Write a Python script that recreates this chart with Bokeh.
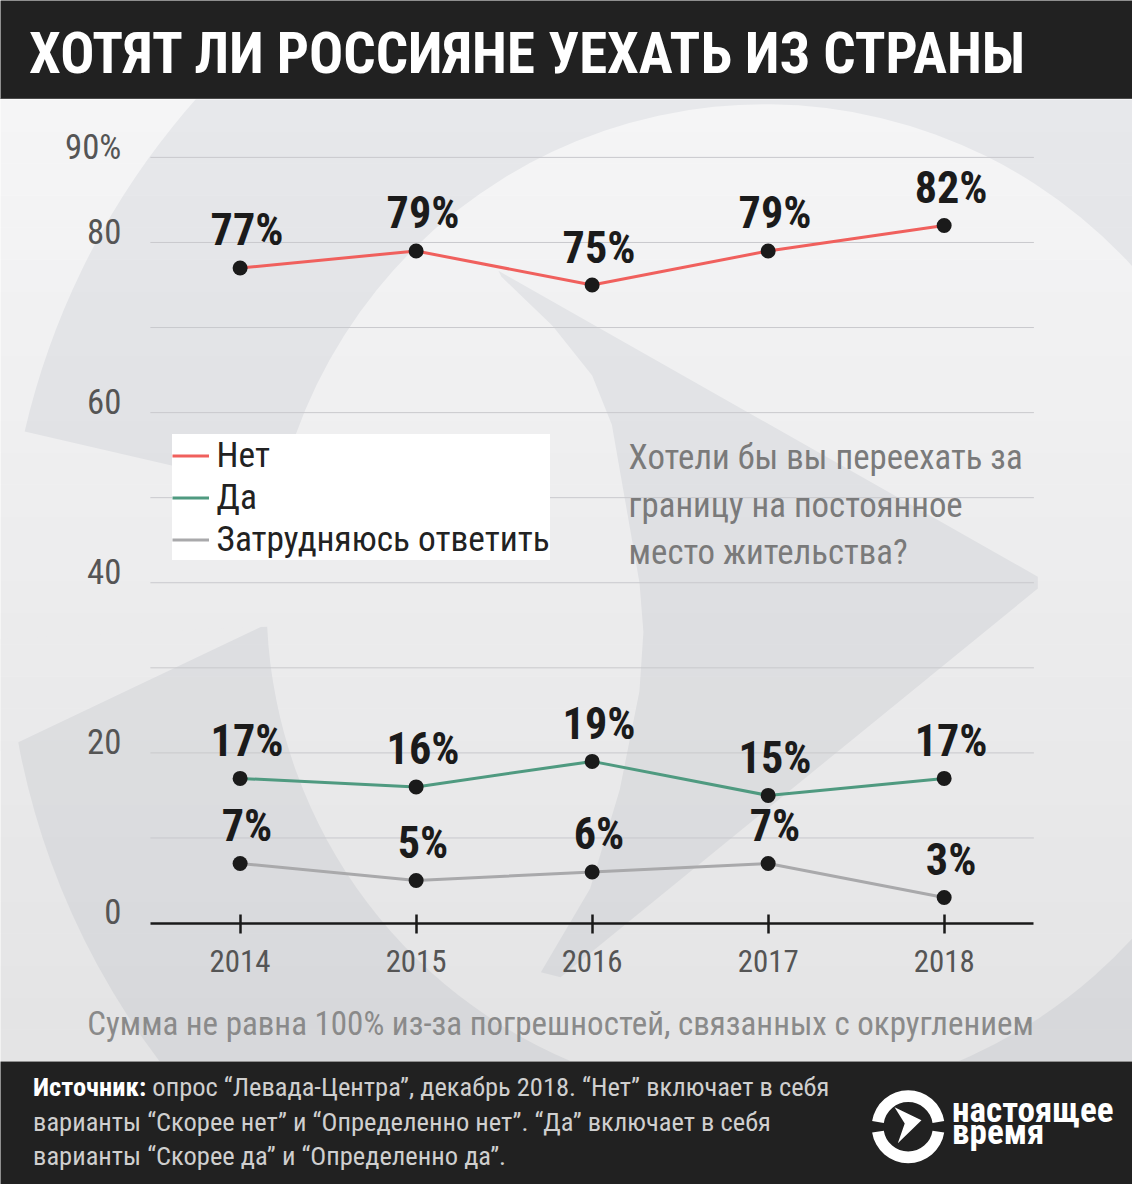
import math, glob, os
from bokeh.plotting import figure
from bokeh.models import (Range1d, LinearAxis, FixedTicker, Label, Legend,
                          LegendItem, ColumnDataSource)
from bokeh.layouts import column
from bokeh.core.properties import value
from bokeh.embed import file_html
from bokeh.resources import INLINE

# ---------------- data ----------------
years = [2014, 2015, 2016, 2017, 2018]
year_labels = ["2014", "2015", "2016", "2017", "2018"]
net = [77, 79, 75, 79, 82]          # Нет
da = [17, 16, 19, 15, 17]           # Да
hard = [7, 5, 6, 7, 3]              # Затрудняюсь ответить
series_names = ["Нет", "Да", "Затрудняюсь ответить"]
series_colors = ["#f0605d", "#4f9a80", "#a9a9ab"]
y_ticks = [0, 20, 40, 60, 80, 90]
y_tick_labels = ["0", "20", "40", "60", "80", "90%"]
grid_values = [10, 20, 30, 40, 50, 60, 70, 80, 90]

title_text = "ХОТЯТ ЛИ РОССИЯНЕ УЕХАТЬ ИЗ СТРАНЫ"
question_lines = ["Хотели бы вы переехать за", "границу на постоянное", "место жительства?"]
footnote_text = "Сумма не равна 100% из-за погрешностей, связанных с округлением"
source_head = "Источник:"
source_lines = ["опрос “Левада-Центра”, декабрь 2018. “Нет” включает в себя",
                "варианты “Скорее нет” и “Определенно нет”. “Да” включает в себя",
                "варианты “Скорее да” и “Определенно да”."]
logo_lines = ["настоящее", "время"]

# ---------------- fonts ----------------
def _font_names():
    files = []
    for d in ["/usr/share/fonts", "/usr/local/share/fonts",
              os.path.expanduser("~/.fonts"), os.path.expanduser("~/.local/share/fonts")]:
        files += glob.glob(os.path.join(d, "**", "*"), recursive=True)
    return " ".join(os.path.basename(f).lower().replace(" ", "").replace("-", "").replace("_", "")
                    for f in files)

_FN = _font_names()
if "robotocondensed" in _FN:
    FONT, WF = "Roboto Condensed", 1.12
elif "liberationsansnarrow" in _FN:
    FONT, WF = "Liberation Sans Narrow", 1.15
else:
    FONT, WF = "Roboto", 1.0

# ---------------- geometry (reference px -> canvas) ----------------
W, H = 1132, 1184
SX, SY = W / 1148.0, H / 1200.0
S = (SX + SY) / 2
HH, HM, HF = 99, 962, 123
MAIN_TOP = HH / SY
MAIN_BOT = (HH + HM) / SY


def fs(px):
    return f"{px * WF * S:.1f}px"


def X(xref):      # reference px -> year
    return 2014 + (xref - 243.0) / 178.5


def Y(yref):      # reference px -> percent
    return (935.0 - yref) / 8.622


def msx(xref):    # main panel screen x
    return xref * SX


def msy(yref):    # main panel screen y (from bottom)
    return (HH + HM) - yref * SY


DARK = "#212121"

# ---------------- header ----------------
head = figure(width=W, height=HH, toolbar_location=None, output_backend="svg",
              x_axis_location=None, y_axis_location=None, min_border=0,
              x_range=Range1d(0, 1), y_range=Range1d(0, HH))
head.grid.visible = False
head.outline_line_color = None
head.background_fill_color = DARK
head.border_fill_color = DARK
head.segment(x0=[0], x1=[1], y0=[0.6], y1=[0.6], line_color="#5a5a5a", line_width=1.2)
head.add_layout(Label(x=29 * SX, y=HH - 54 * SY, x_units="screen", y_units="screen",
                      text=title_text, text_font=FONT, text_font_style="bold",
                      text_font_size=fs(51.4), text_color="white", text_baseline="middle"))

# ---------------- main chart ----------------
p = figure(width=W, height=HM, toolbar_location=None, output_backend="svg",
           x_axis_location=None, y_axis_location=None, min_border=0,
           x_range=Range1d(X(0), X(1148)), y_range=Range1d(Y(MAIN_BOT), Y(MAIN_TOP)))
p.grid.visible = False
p.outline_line_color = None
BG = "#f5f5f6"
p.background_fill_color = BG
p.border_fill_color = BG

LABEL_OFF = 11.0 / 8.622
p.extra_y_ranges = {"lab": Range1d(Y(MAIN_BOT) - LABEL_OFF, Y(MAIN_TOP) - LABEL_OFF)}

# watermark (decoration): broken ring + chevron
WM = "#e7e8eb"
cx, cy = X(775), Y(610)
for a0, a1 in [(-40, 167), (182.8, 320)]:
    p.annular_wedge(x=cx, y=cy, inner_radius=505 * S, outer_radius=770 * S,
                    inner_radius_units="screen", outer_radius_units="screen",
                    start_angle=math.radians(a0), end_angle=math.radians(a1),
                    fill_color=WM, line_color=None)
# slanted cut of the lower arc end
cut = [(266, 634), (-20, 648), (-20, 770)]
p.patch(x=[X(a) for a, b in cut], y=[Y(b) for a, b in cut], fill_color=BG, line_color=None)
chev = [(505, 274), (1052, 584), (1052, 596), (568, 990), (548, 985), (598, 900),
        (628, 800), (648, 700), (652, 640), (648, 590), (620, 430), (600, 380),
        (560, 330), (508, 280)]
p.patch(x=[X(a) for a, b in chev], y=[Y(b) for a, b in chev], fill_color=WM, line_color=None)

# soft vertical darkening (decoration)
NB = 30
for i in range(NB):
    y0 = MAIN_TOP + (MAIN_BOT - MAIN_TOP) * i / NB
    y1 = MAIN_TOP + (MAIN_BOT - MAIN_TOP) * (i + 1) / NB
    p.quad(left=X(-20), right=X(1170), top=Y(y0), bottom=Y(y1), fill_color="black",
           fill_alpha=0.07 * i / NB, line_color=None)

# grid lines
gx0, gx1 = X(152), X(1048)
p.segment(x0=[gx0] * len(grid_values), x1=[gx1] * len(grid_values),
          y0=grid_values, y1=grid_values, line_color="#c9c9cd", line_width=1)

# axes
xaxis = LinearAxis(fixed_location=0, ticker=FixedTicker(ticks=years),
                   major_label_overrides={y: l for y, l in zip(years, year_labels)},
                   bounds=(gx0, gx1), axis_line_color="#1a1a1a", axis_line_width=2.5,
                   major_tick_line_color="#1a1a1a", major_tick_line_width=2.5,
                   major_tick_in=9, major_tick_out=10, minor_tick_line_color=None,
                   major_label_text_font=FONT, major_label_text_font_size=fs(28),
                   major_label_text_color="#555555", major_label_standoff=17)
p.add_layout(xaxis, "below")

yaxis = LinearAxis(y_range_name="lab", fixed_location=gx0, ticker=FixedTicker(ticks=y_ticks),
                   major_label_overrides={t: l for t, l in zip(y_ticks, y_tick_labels)},
                   axis_line_color=None, major_tick_line_color=None, minor_tick_line_color=None,
                   major_label_text_font=FONT, major_label_text_font_size=fs(31.5),
                   major_label_text_color="#555555", major_label_standoff=int(24 * SX))
p.add_layout(yaxis, "left")

# series
renderers = []
for vals, col in zip([net, da, hard], series_colors):
    renderers.append(p.line(years, vals, line_color=col, line_width=3))
for vals in [net, da, hard]:
    p.scatter(years, vals, size=15, fill_color="#1a1a1a", line_color=None)

lab_x, lab_y, lab_t = [], [], []
for vals in [net, da, hard]:
    lab_x += years
    lab_y += vals
    lab_t += [f"{v}%" for v in vals]
src = ColumnDataSource(dict(x=lab_x, y=lab_y, t=lab_t))
p.text(x="x", y="y", text="t", source=src, x_offset=7 * SX, y_offset=-38 * SY,
       text_align="center", text_baseline="middle", text_font=value(FONT),
       text_font_style="bold", text_font_size=fs(40), text_color="#1b1b1b")

legend = Legend(items=[LegendItem(label=n, renderers=[r]) for n, r in zip(series_names, renderers)],
                location=(msx(174), msy(568)), background_fill_color="white",
                background_fill_alpha=1.0, border_line_color=None, label_text_font=FONT,
                label_text_font_size=fs(32), label_text_color="#222222",
                glyph_width=int(38 * SX), glyph_height=int(38 * SY), label_height=int(38 * SY),
                spacing=-3, padding=5, margin=0, label_standoff=8)
p.add_layout(legend)

for i, line in enumerate(question_lines):
    p.add_layout(Label(x=msx(637), y=msy(463 + 48 * i), x_units="screen", y_units="screen",
                       text=line, text_font=FONT, text_font_size=fs(31.5), text_color="#7a7a7a",
                       text_baseline="middle"))

p.add_layout(Label(x=msx(568), y=msy(1037), x_units="screen", y_units="screen",
                   text=footnote_text, text_font=FONT, text_font_size=fs(29.9),
                   text_color="#8a8a8a", text_align="center", text_baseline="middle"))

# ---------------- footer ----------------
foot = figure(width=W, height=HF, toolbar_location=None, output_backend="svg",
              x_axis_location=None, y_axis_location=None, min_border=0,
              x_range=Range1d(0, 1148), y_range=Range1d(1200, MAIN_BOT))
foot.grid.visible = False
foot.outline_line_color = None
foot.background_fill_color = DARK
foot.border_fill_color = DARK


def fsy(yref):
    return H - yref * SY


foot.add_layout(Label(x=33 * SX, y=fsy(1101), x_units="screen", y_units="screen",
                      text=source_head, text_font=FONT, text_font_style="bold",
                      text_font_size=fs(24), text_color="white", text_baseline="middle"))
starts = [154, 33, 33]
for i, line in enumerate(source_lines):
    foot.add_layout(Label(x=starts[i] * SX, y=fsy(1101 + 35 * i), x_units="screen",
                          y_units="screen", text=line, text_font=FONT, text_font_size=fs(24),
                          text_color="#cfcfcf", text_baseline="middle"))

# logo (decoration), in reference pixel coordinates of the footer
lx, ly = 920.5, 1141.5
for a0, a1 in [(9, 171), (189, 351)]:
    foot.annular_wedge(x=lx, y=ly, inner_radius=25 * S, outer_radius=37 * S,
                       inner_radius_units="screen", outer_radius_units="screen",
                       start_angle=math.radians(a0), end_angle=math.radians(a1),
                       fill_color="white", line_color=None)
foot.patch(x=[906.7, 934.0, 910.0, 917.0], y=[1121.7, 1135.0, 1158.3, 1138.3],
           fill_color="white", line_color=None)
for i, t in enumerate(logo_lines):
    foot.add_layout(Label(x=965 * SX, y=fsy(1124 + 23 * i), x_units="screen", y_units="screen",
                          text=t, text_font=FONT, text_font_style="bold",
                          text_font_size=fs(31.8), text_color="white", text_baseline="middle"))

layout = column(head, p, foot, spacing=0)
open("out.html", "w").write(file_html(layout, INLINE))
